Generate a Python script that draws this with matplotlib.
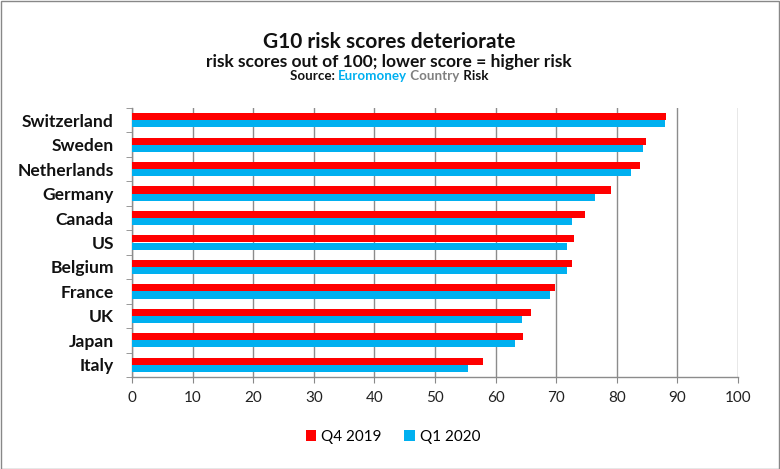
import matplotlib
matplotlib.use("Agg")
import matplotlib.pyplot as plt
import numpy as np
from matplotlib.patches import Rectangle

countries = ["Switzerland", "Sweden", "Netherlands", "Germany", "Canada", "US",
             "Belgium", "France", "UK", "Japan", "Italy"]
q4_2019 = [88.2, 84.8, 83.9, 79.0, 74.7, 72.9, 72.6, 69.8, 65.8, 64.5, 58.0]
q1_2020 = [87.9, 84.3, 82.3, 76.4, 72.6, 71.7, 71.7, 68.9, 64.3, 63.2, 55.4]
series_names = ["Q4 2019", "Q1 2020"]
xticks = list(range(0, 101, 10))

RED = "#FF0000"
BLUE = "#00B0F0"
FONT = ["Lato", "DejaVu Sans"]
plt.rcParams['font.family'] = FONT

fig = plt.figure(figsize=(7.8, 4.69), dpi=100)
W, H = 780, 469
ax = fig.add_axes([132 / W, 1 - 377 / H, (738 - 132) / W, (377 - 108) / H])

n = len(countries)
y = np.arange(n)[::-1]
h = 0.29
ax.barh(y + h / 2, q4_2019, height=h, color=RED, label=series_names[0], zorder=3)
ax.barh(y - h / 2, q1_2020, height=h, color=BLUE, label=series_names[1], zorder=3)

ax.set_xlim(0, 100)
ax.set_ylim(-0.5, n - 0.5)
ax.set_xticks(xticks)
ax.set_xticklabels([str(t) for t in xticks], fontsize=11, color="#222222")
ax.set_yticks(y)
ax.set_yticklabels(countries, fontsize=12.6, fontweight="bold", color="#111111")
ax.tick_params(axis="y", length=0, pad=13)
ax.tick_params(axis="x", length=4, color="#888888", pad=6)
ax.set_yticks(np.arange(-0.5, n, 1.0), minor=True)
ax.tick_params(axis="y", which="minor", length=4, color="#888888")
ax.grid(axis="x", color="#8c8c8c", linewidth=1.0, zorder=0)
for s in ["top", "right"]:
    ax.spines[s].set_visible(False)
for s in ["left", "bottom"]:
    ax.spines[s].set_color("#8c8c8c")
    ax.spines[s].set_linewidth(1.0)

fig.text(389 / W, 1 - 42 / H, "G10 risk scores deteriorate", ha="center", va="center",
         fontsize=15, fontweight="bold", color="#111111")
fig.text(389 / W, 1 - 62 / H, "risk scores out of 100; lower score = higher risk", ha="center",
         va="center", fontsize=12.5, fontweight="bold", color="#111111")

parts = [("Source: ", "#111111"), ("Euromoney", BLUE), (" Country", "#808080"), (" Risk", "#111111")]
fig.canvas.draw()
renderer = fig.canvas.get_renderer()
texts = []
widths = []
for s, c in parts:
    t = fig.text(0, 1 - 76 / H, s, fontsize=9.6, fontweight="bold", color=c, va="center", ha="left")
    texts.append(t)
    widths.append(t.get_window_extent(renderer).width)
total = sum(widths)
x0 = 389 - total / 2
for t, w in zip(texts, widths):
    t.set_x(x0 / W)
    x0 += w

leg = fig.legend(loc="center", bbox_to_anchor=(393 / W, 1 - 437 / H), ncol=2, frameon=False,
                 fontsize=11, handlelength=0.7, handleheight=0.7, handletextpad=0.3,
                 columnspacing=1.5)

fig.patches.append(Rectangle((0.5 / W, 0.5 / H), (W - 2) / W, (H - 2) / H, transform=fig.transFigure,
                             fill=False, edgecolor="#888888", linewidth=1.0))

fig.savefig("out.png", dpi=100)
